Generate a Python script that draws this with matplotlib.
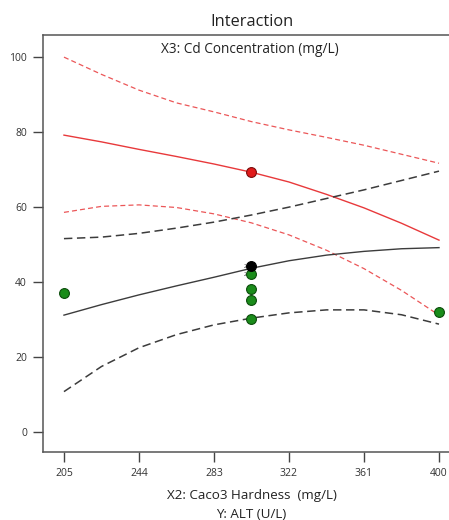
import matplotlib
matplotlib.use("Agg")
import matplotlib.pyplot as plt

plt.rcParams['font.family'] = ['Open Sans', 'DejaVu Sans']

x_grid = [205, 224.5, 244, 263.5, 283, 302.5, 322, 341.5, 361, 380.5, 400]

# high Cd curve (red) with its confidence band
red_mean = [79.2, 77.4, 75.4, 73.5, 71.5, 69.3, 66.7, 63.4, 59.8, 55.7, 51.2]
red_upper = [100.0, 95.4, 91.2, 87.8, 85.4, 82.8, 80.6, 78.6, 76.5, 74.1, 71.7]
red_lower = [58.6, 60.2, 60.6, 59.9, 58.2, 55.8, 52.6, 48.5, 43.6, 37.8, 31.2]

# low Cd curve (black) with its confidence band
blk_mean = [31.2, 34.0, 36.6, 39.0, 41.3, 43.7, 45.7, 47.2, 48.2, 48.9, 49.2]
blk_upper = [51.6, 52.0, 53.0, 54.4, 56.0, 57.9, 60.0, 62.3, 64.6, 67.1, 69.6]
blk_lower = [10.8, 17.5, 22.5, 26.0, 28.6, 30.4, 31.8, 32.6, 32.6, 31.3, 28.8]

# design points
green_x = [205, 302.5, 302.5, 302.5, 302.5, 400]
green_y = [37.1, 42.1, 38.1, 35.2, 30.2, 32.1]
red_pt_x = [302.5]
red_pt_y = [69.3]
blk_pt_x = [302.5]
blk_pt_y = [44.3]

x_ticks = [205, 244, 283, 322, 361, 400]
y_ticks = [0, 20, 40, 60, 80, 100]

fig = plt.figure(figsize=(4.49, 5.2), dpi=100)
ax = fig.add_axes([43 / 449, 68 / 520, 406 / 449, 417 / 520])

red = '#e8393b'
gray = '#3c3c3c'

ax.plot(x_grid, red_mean, color=red, lw=1.0)
ax.plot(x_grid, red_upper, color=red, lw=0.9, ls=(0, (4, 2.5)), alpha=0.85)
ax.plot(x_grid, red_lower, color=red, lw=0.9, ls=(0, (4, 2.5)), alpha=0.85)
ax.plot(x_grid, blk_mean, color=gray, lw=1.0)
ax.plot(x_grid, blk_upper, color=gray, lw=1.1, ls=(0, (5.5, 3)))
ax.plot(x_grid, blk_lower, color=gray, lw=1.1, ls=(0, (5.5, 3)))

ax.scatter(green_x, green_y, s=50, color='#1a8c1a', edgecolor='#0c4d0c', lw=0.8, zorder=5)
ax.scatter(red_pt_x, red_pt_y, s=50, color='#e01a1a', edgecolor='#7a0c0c', lw=0.8, zorder=5)
ax.scatter(blk_pt_x, blk_pt_y, s=50, color='black', edgecolor='black', lw=0.8, zorder=6)

# replicate counts next to the centre points
ax.text(300.2, blk_pt_y[0], '2', fontsize=3.5, ha='right', va='center', color='#333333')
ax.text(300.2, green_y[1], '2', fontsize=3.5, ha='right', va='center', color='#333333')

ax.set_xlim(194.1, 405.2)
ax.set_ylim(-5.3, 105.9)
ax.set_xticks(x_ticks)
ax.set_yticks(y_ticks)
ax.tick_params(axis='both', direction='out', length=7, width=1.0, color='#444444',
               labelsize=7.5, labelcolor='#333333', pad=4.5)

for side in ['left', 'bottom', 'top']:
    ax.spines[side].set_color('#555555')
    ax.spines[side].set_linewidth(1.1)
ax.spines['right'].set_visible(False)

ax.text(0.51, 0.965, 'X3: Cd Concentration (mg/L)', transform=ax.transAxes,
        ha='center', va='center', fontsize=9.8, color='#222222')
fig.text(252 / 449, 1 - 22 / 520, 'Interaction', ha='center', va='center',
         fontsize=11.8, color='#222222')
fig.text(252 / 449, 1 - 495 / 520, 'X2: Caco3 Hardness  (mg/L)', ha='center', va='center',
         fontsize=9.6, color='#222222')
fig.text(251 / 449, 1 - 514 / 520, 'Y: ALT (U/L)', ha='center', va='center',
         fontsize=9.6, color='#222222')

fig.savefig('out.png', dpi=100)
